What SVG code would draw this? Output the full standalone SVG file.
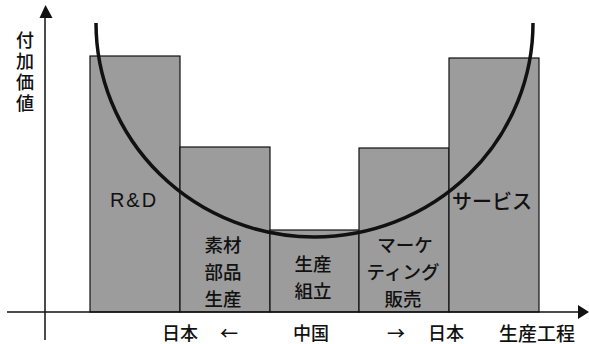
<svg xmlns="http://www.w3.org/2000/svg" width="589" height="344" viewBox="0 0 589 344">
<style>
.bar{fill:#9c9c9c;stroke:#111;stroke-width:1.2}
.t{font-family:"Noto Sans CJK JP","Liberation Sans",sans-serif;font-size:20px;font-weight:500;fill:#111;text-anchor:middle;dominant-baseline:central}
.m{font-size:18.5px}
.b{font-size:18px}
.ax{stroke:#111;stroke-width:1.5;fill:none}
</style>
<rect width="589" height="344" fill="#fff"/>
<g id="bar-rd"><rect class="bar" x="90" y="56" width="90" height="256"/><text class="t" x="134" y="200" style="font-family:'Liberation Sans',sans-serif;letter-spacing:2px">R&amp;D</text></g>
<g id="bar-parts"><rect class="bar" x="180" y="147" width="90" height="165"/><text class="t m" x="223" y="244">素材</text><text class="t m" x="223" y="271">部品</text><text class="t m" x="223" y="298">生産</text></g>
<g id="bar-assembly"><rect class="bar" x="270" y="230" width="89" height="82"/><text class="t m" x="313" y="263">生産</text><text class="t m" x="313" y="290">組立</text></g>
<g id="bar-marketing"><rect class="bar" x="359" y="148" width="90" height="164"/><text class="t m" x="405" y="244">マーケ</text><text class="t m" x="403" y="271">ティング</text><text class="t m" x="403" y="298">販売</text></g>
<g id="bar-service"><rect class="bar" x="449" y="58" width="90" height="254"/><text class="t" x="492" y="200">サービス</text></g>
<g id="connectors">
<path d="M96 23 A218.5 214 0 0 0 533 23" fill="none" stroke="#111" stroke-width="3.5"/>
<line class="ax" x1="45" y1="16" x2="45" y2="340"/>
<polygon points="45.5,5 39.5,18 52.5,18" fill="#111"/>
<line class="ax" x1="7" y1="312" x2="580" y2="312"/>
<polygon points="589,312 578,305 578,319" fill="#111"/>
</g>
<g id="labels">
<text class="t" x="25" y="31" style="font-size:18px;writing-mode:vertical-rl;text-anchor:start;letter-spacing:3px">付加価値</text>
<text class="t b" x="180" y="332">日本</text>
<text class="t b" x="229" y="332">←</text>
<text class="t b" x="311" y="332">中国</text>
<text class="t b" x="396" y="332">→</text>
<text class="t b" x="446" y="332">日本</text>
<text class="t" x="537" y="332" style="font-size:19px">生産工程</text>
</g>
</svg>
